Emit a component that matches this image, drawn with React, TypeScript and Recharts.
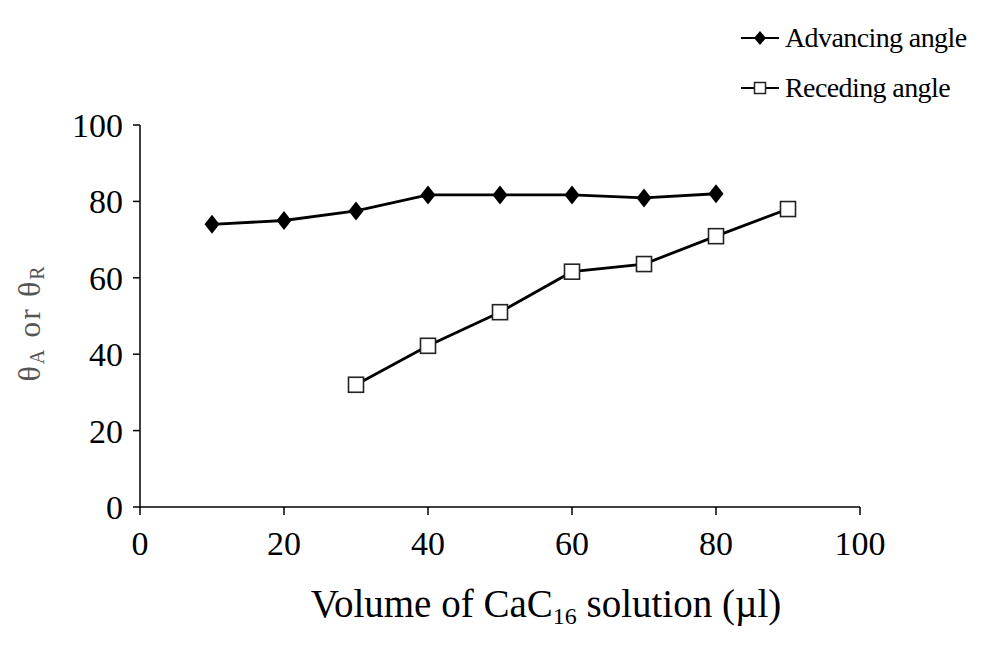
import React from 'react';
import { LineChart, Line, XAxis, YAxis } from 'recharts';

const volumes = [10, 20, 30, 40, 50, 60, 70, 80, 90];
const advancing = [74, 75, 77.5, 81.7, 81.7, 81.7, 80.9, 82, null];
const receding = [null, null, 32, 42.2, 51, 61.6, 63.6, 70.9, 78];
const xTicks = [0, 20, 40, 60, 80, 100];
const yTicks = [0, 20, 40, 60, 80, 100];

const data = volumes.map((v, i) => ({ volume: v, advancing: advancing[i], receding: receding[i] }));

const serif = '"Liberation Serif", "Times New Roman", serif';

const Diamond = (props: any) => {
    const { cx, cy, key } = props;
    if (cx == null || cy == null) return <g key={key} />;
    return <path key={key} d={`M${cx},${cy - 9.5} L${cx + 7.5},${cy} L${cx},${cy + 9.5} L${cx - 7.5},${cy} Z`} fill="#000" />;
};

const Square = (props: any) => {
    const { cx, cy, key } = props;
    if (cx == null || cy == null) return <g key={key} />;
    return <rect key={key} x={cx - 7.5} y={cy - 7.5} width={15} height={15} fill="#fff" stroke="#222" strokeWidth={1.6} />;
};

function LegendBox() {
    const row = (label: string, marker: React.ReactNode) => (
        <div style={{ display: 'flex', alignItems: 'center', height: 50 }}>
            <svg width={40} height={20} style={{ marginRight: 5 }}>
                <line x1={1} y1={10} x2={39} y2={10} stroke="#000" strokeWidth={2.2} />
                {marker}
            </svg>
            <span style={{ fontFamily: serif, fontSize: 28, letterSpacing: -0.6, color: '#000' }}>{label}</span>
        </div>
    );
    return (
        <div style={{ position: 'absolute', left: 740, top: 13 }}>
            {row('Advancing angle', <path d="M20,3 L26,10 L20,17 L14,10 Z" fill="#000" />)}
            {row('Receding angle', <rect x={14.5} y={4.5} width={11} height={11} fill="#fff" stroke="#222" strokeWidth={1.5} />)}
        </div>
    );
}

export default function App() {
    return (
        <div style={{ position: 'absolute', left: 0, top: 0, width: 991, height: 649, background: '#fff' }}>
            <LineChart width={991} height={649} data={data} margin={{ top: 125, right: 131, left: 0, bottom: 82 }}>
                <XAxis
                    dataKey="volume"
                    type="number"
                    domain={[0, 100]}
                    ticks={xTicks}
                    stroke="#000"
                    strokeWidth={1.5}
                    tickSize={8}
                    tickMargin={16}
                    height={60}
                    tick={{ fill: '#000', fontSize: 34, fontFamily: serif }}
                />
                <YAxis
                    type="number"
                    domain={[0, 100]}
                    ticks={yTicks}
                    stroke="#000"
                    strokeWidth={1.5}
                    tickSize={7}
                    tickMargin={10}
                    width={140}
                    tick={{ fill: '#000', fontSize: 34, fontFamily: serif }}
                />
                <Line dataKey="advancing" stroke="#000" strokeWidth={2.8} dot={Diamond} isAnimationActive={false} connectNulls={false} />
                <Line dataKey="receding" stroke="#000" strokeWidth={2.8} dot={Square} isAnimationActive={false} connectNulls={false} />
            </LineChart>
            <LegendBox />
            <div style={{ position: 'absolute', left: 546, top: 581, transform: 'translateX(-50%)', fontFamily: serif, fontSize: 39, color: '#000', whiteSpace: 'nowrap' }}>
                Volume of CaC<sub style={{ fontSize: 24, verticalAlign: '-0.3em' }}>16</sub> solution (µl)
            </div>
            <div style={{ position: 'absolute', left: 30, top: 323, transform: 'translate(-50%, -50%) rotate(-90deg)', fontFamily: serif, fontSize: 32, letterSpacing: 2, color: '#555', whiteSpace: 'nowrap' }}>
                θ<sub style={{ fontSize: 20, verticalAlign: '-0.2em' }}>A</sub> or θ<sub style={{ fontSize: 20, verticalAlign: '-0.2em' }}>R</sub>
            </div>
        </div>
    );
}
